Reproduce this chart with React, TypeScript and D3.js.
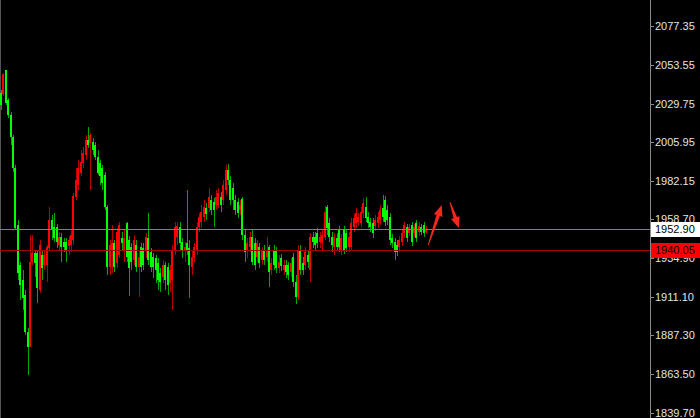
import React from "react";
import * as d3 from "d3";

const openP = [
  2036.2, 2035.6, 2050.3, 2031.9, 2022.7, 2009.2, 1990.1, 1955.1, 1930.6, 1921.4,
  1912.1, 1889.4, 1880.2, 1932.4, 1937.9, 1937.9, 1915.2, 1936.7, 1930.6, 1930.6,
  1941.0, 1958.2, 1953.9, 1953.9, 1942.8, 1947.8, 1944.7, 1944.7, 1942.2, 1942.8,
  1945.9, 1972.3, 1979.7, 1987.1, 1993.2, 1998.1, 2007.3, 2005.5, 2006.1, 2004.3,
  1996.9, 1993.2, 1990.1, 1985.8, 1966.2, 1929.3, 1939.8, 1944.1, 1931.8, 1936.7,
  1947.1, 1939.8, 1956.4, 1945.9, 1941.6, 1933.6, 1942.8, 1929.3, 1941.6, 1941.0,
  1939.8, 1947.1, 1938.5, 1935.5, 1934.9, 1931.8, 1925.7, 1923.2, 1930.6, 1929.3,
  1919.5, 1921.4, 1939.8, 1947.8, 1953.9, 1944.7, 1939.8, 1944.1, 1941.0, 1929.3,
  1934.9, 1939.8, 1953.9, 1957.0, 1960.0, 1965.6, 1965.6, 1970.5, 1969.2, 1967.4,
  1967.4, 1972.3, 1970.5, 1976.6, 1988.9, 1982.8, 1977.8, 1970.5, 1969.2, 1964.3,
  1971.1, 1949.0, 1939.8, 1941.6, 1947.8, 1944.1, 1935.5, 1941.6, 1933.6, 1939.8,
  1935.5, 1941.6, 1927.5, 1939.8, 1939.8, 1928.7, 1934.9, 1927.5, 1930.6, 1930.6,
  1926.3, 1935.5, 1920.1, 1910.9, 1939.8, 1931.8, 1930.6, 1936.7, 1927.5, 1947.8,
  1947.8, 1950.2, 1944.7, 1944.1, 1947.8, 1966.2, 1956.4, 1947.8, 1941.6, 1947.1,
  1952.1, 1939.8, 1952.1, 1950.2, 1941.6, 1941.6, 1953.9, 1956.4, 1957.0, 1956.4,
  1962.5, 1966.2, 1960.0, 1957.0, 1956.4, 1954.5, 1956.4, 1958.2, 1965.6, 1970.5,
  1964.3, 1960.0, 1947.1, 1944.7, 1942.8, 1941.6, 1944.7, 1950.2, 1953.9, 1950.2,
  1955.1, 1950.2, 1956.4, 1950.8, 1953.9, 1955.1, 1950.8,
];

const highP = [
  2038.0, 2048.5, 2050.3, 2033.1, 2024.5, 2010.4, 1992.0, 1958.2, 1932.4, 1927.5,
  1915.2, 1891.9, 1949.0, 1949.0, 1939.8, 1939.8, 1945.9, 1939.8, 1939.8, 1942.8,
  1966.2, 1961.3, 1962.5, 1955.7, 1950.8, 1950.2, 1947.1, 1947.1, 1948.4, 1952.1,
  1974.8, 1990.1, 1995.0, 2001.2, 2003.0, 2010.4, 2015.3, 2011.6, 2008.6, 2006.1,
  2001.2, 1995.0, 1992.0, 1987.7, 1967.4, 1945.9, 1955.1, 1945.9, 1953.3, 1957.0,
  1950.8, 1952.1, 1957.0, 1948.4, 1944.1, 1949.0, 1945.9, 1939.8, 1944.1, 1944.1,
  1950.2, 1962.5, 1941.0, 1937.9, 1936.7, 1934.9, 1928.7, 1933.6, 1932.4, 1931.8,
  1930.6, 1942.8, 1957.0, 1957.0, 1957.0, 1947.1, 1944.7, 1976.6, 1945.9, 1939.8,
  1944.1, 1957.0, 1962.5, 1967.4, 1970.5, 1968.6, 1977.8, 1973.5, 1971.7, 1976.6,
  1977.8, 1975.4, 1982.8, 1992.0, 1992.6, 1985.2, 1980.9, 1973.5, 1971.7, 1970.5,
  1972.3, 1952.1, 1947.1, 1950.8, 1952.1, 1947.1, 1945.9, 1944.1, 1941.6, 1942.8,
  1947.8, 1942.8, 1934.9, 1942.8, 1941.6, 1936.7, 1937.3, 1933.6, 1933.6, 1932.4,
  1934.9, 1937.9, 1924.4, 1942.8, 1942.8, 1935.5, 1941.6, 1939.8, 1950.2, 1950.8,
  1950.8, 1953.3, 1950.8, 1952.1, 1966.8, 1967.4, 1959.4, 1950.8, 1950.2, 1950.2,
  1954.5, 1949.6, 1954.5, 1952.7, 1950.8, 1959.4, 1961.9, 1965.6, 1962.5, 1966.2,
  1971.7, 1972.3, 1963.1, 1959.4, 1959.4, 1961.3, 1963.1, 1967.4, 1973.5, 1972.9,
  1967.4, 1962.5, 1949.6, 1947.1, 1945.9, 1948.4, 1952.7, 1957.0, 1955.7, 1955.7,
  1957.0, 1955.7, 1958.2, 1957.0, 1955.7, 1957.0, 1954.5,
];

const lowP = [
  2025.8, 2034.3, 2028.8, 2020.8, 2004.3, 1987.7, 1952.1, 1921.4, 1909.1, 1902.9,
  1887.6, 1863.0, 1880.2, 1930.6, 1923.2, 1907.2, 1913.4, 1921.4, 1927.5, 1920.1,
  1939.8, 1945.9, 1944.7, 1941.0, 1939.8, 1932.4, 1938.5, 1932.4, 1936.7, 1938.5,
  1942.8, 1970.5, 1976.6, 1985.2, 1990.1, 1995.0, 2002.4, 1976.6, 1998.1, 1995.0,
  1985.8, 1979.7, 1976.6, 1964.3, 1924.4, 1924.4, 1925.7, 1926.3, 1928.7, 1934.9,
  1939.8, 1932.4, 1932.4, 1911.5, 1927.5, 1930.6, 1926.3, 1910.9, 1926.3, 1927.5,
  1934.9, 1930.6, 1926.3, 1922.6, 1919.5, 1915.2, 1914.0, 1919.5, 1915.2, 1912.1,
  1914.0, 1902.9, 1936.7, 1942.8, 1939.8, 1934.9, 1932.4, 1936.7, 1910.3, 1924.4,
  1932.4, 1936.7, 1950.8, 1953.3, 1957.0, 1958.2, 1963.1, 1961.3, 1953.9, 1964.3,
  1965.6, 1963.1, 1967.4, 1973.5, 1979.7, 1967.4, 1964.3, 1961.3, 1959.4, 1961.3,
  1945.9, 1932.4, 1934.9, 1938.5, 1930.6, 1927.5, 1932.4, 1928.7, 1930.6, 1930.6,
  1932.4, 1917.1, 1924.4, 1927.5, 1925.7, 1925.7, 1926.9, 1924.4, 1922.6, 1921.4,
  1923.2, 1917.1, 1906.6, 1909.1, 1924.4, 1924.4, 1927.5, 1928.7, 1920.1, 1941.0,
  1939.8, 1941.0, 1941.0, 1939.8, 1945.9, 1949.0, 1944.7, 1938.5, 1936.7, 1939.8,
  1938.5, 1936.7, 1937.3, 1938.5, 1938.5, 1939.8, 1950.8, 1953.3, 1954.5, 1953.9,
  1959.4, 1957.0, 1953.3, 1950.8, 1947.1, 1951.4, 1953.3, 1955.1, 1957.0, 1954.5,
  1955.1, 1942.8, 1941.0, 1933.6, 1936.1, 1938.5, 1942.2, 1947.1, 1944.7, 1948.4,
  1942.2, 1947.8, 1944.7, 1948.4, 1949.0, 1947.8, 1949.6,
];

const closeP = [
  2028.8, 2047.9, 2030.0, 2022.7, 2009.2, 1990.1, 1953.3, 1925.7, 1918.3, 1910.3,
  1889.4, 1880.2, 1932.4, 1937.9, 1931.8, 1916.4, 1942.8, 1928.7, 1936.7, 1941.6,
  1958.2, 1952.1, 1947.1, 1944.7, 1947.8, 1941.6, 1941.6, 1939.8, 1945.9, 1949.0,
  1972.9, 1982.8, 1990.1, 1993.8, 1999.3, 2007.3, 2004.3, 2010.4, 2001.2, 1996.9,
  1987.1, 1985.2, 1980.9, 1966.2, 1929.3, 1942.8, 1944.1, 1929.3, 1950.8, 1955.1,
  1944.1, 1947.1, 1935.5, 1928.7, 1932.4, 1945.9, 1929.3, 1935.5, 1929.3, 1930.6,
  1947.8, 1933.6, 1929.3, 1929.3, 1927.5, 1921.4, 1920.1, 1930.6, 1921.4, 1918.3,
  1927.5, 1939.8, 1953.9, 1954.5, 1944.1, 1939.8, 1941.6, 1939.8, 1930.6, 1935.5,
  1941.6, 1953.9, 1960.0, 1963.1, 1966.2, 1961.9, 1972.3, 1964.3, 1964.3, 1972.3,
  1974.8, 1967.4, 1979.7, 1988.9, 1982.8, 1970.5, 1970.5, 1964.3, 1962.5, 1967.4,
  1949.0, 1938.5, 1944.1, 1947.8, 1932.4, 1930.6, 1944.1, 1931.8, 1939.8, 1933.6,
  1939.8, 1926.3, 1931.8, 1930.6, 1928.7, 1932.4, 1929.9, 1930.6, 1926.3, 1924.4,
  1931.8, 1920.1, 1910.9, 1939.8, 1927.5, 1927.5, 1938.5, 1932.4, 1947.8, 1944.7,
  1942.8, 1944.1, 1947.8, 1949.0, 1963.1, 1953.3, 1947.8, 1942.8, 1947.8, 1941.6,
  1941.6, 1947.1, 1939.8, 1941.0, 1947.8, 1956.4, 1959.4, 1962.5, 1960.0, 1963.1,
  1968.6, 1959.4, 1956.4, 1953.9, 1950.2, 1958.2, 1960.0, 1964.3, 1960.0, 1957.0,
  1958.2, 1945.9, 1944.1, 1938.5, 1938.5, 1945.9, 1950.2, 1955.1, 1947.1, 1953.9,
  1944.7, 1953.9, 1947.1, 1954.5, 1950.8, 1950.2, 1952.9,
];

const tickLabels = [
  "2077.35", "2053.55", "2029.75", "2005.95", "1982.15", "1958.70",
  "1934.90", "1911.10", "1887.30", "1863.50", "1839.70",
];

const bidPrice = 1952.9;
const levelPrice = 1940.05;

// annotation arrows in (bar index, price) space
const arrowFromBar = [176.7, 185.7];
const arrowFromPrice = [1942.8, 1969.2];
const arrowToBar = [182.3, 189.4];
const arrowToPrice = [1967.4, 1953.3];

const W = 700;
const H = 418;
const AXIS_X = 650;
const FONT = "'Liberation Sans', Arial, sans-serif";

export default function App() {
  const n = closeP.length;
  const y = d3.scaleLinear().domain([1839.7, 2077.35]).range([413, 26]);
  const x = d3.scaleLinear().domain([0, n - 1]).range([1.5, 426.5]);

  const candles = closeP.map((c, i) => {
    const o = openP[i];
    const up = c >= o;
    const cx = Math.floor(x(i));
    const yTop = Math.round(y(Math.max(o, c)));
    const yBot = Math.round(y(Math.min(o, c)));
    const yH = Math.round(y(highP[i]));
    const yL = Math.round(y(lowP[i]));
    const body = up ? "#ff0000" : "#00ff00";
    const wick = up ? "#b80000" : "#00a800";
    return (
      <g key={i}>
        <rect x={cx} y={yH} width={1} height={Math.max(1, yL - yH)} fill={wick} />
        <rect x={cx - 1} y={yTop} width={2} height={Math.max(1, yBot - yTop)} fill={body} />
      </g>
    );
  });

  const arrows = arrowFromBar.map((fb, k) => {
    const sx = x(fb), sy = y(arrowFromPrice[k]);
    const tx = x(arrowToBar[k]), ty = y(arrowToPrice[k]);
    const len = Math.hypot(tx - sx, ty - sy);
    const dx = (tx - sx) / len, dy = (ty - sy) / len;
    const nx = -dy, ny = dx;
    const hl = 11, hw = 4.5, sw0 = 0.5, sw1 = 1.8;
    const bx = tx - dx * hl, by = ty - dy * hl;
    const pts = [
      [sx + nx * sw0, sy + ny * sw0],
      [bx + nx * sw1, by + ny * sw1],
      [bx + nx * hw, by + ny * hw],
      [tx, ty],
      [bx - nx * hw, by - ny * hw],
      [bx - nx * sw1, by - ny * sw1],
      [sx - nx * sw0, sy - ny * sw0],
    ];
    return <polygon key={k} points={pts.map((p) => p.join(",")).join(" ")} fill="#f2281c" />;
  });

  const bidY = Math.round(y(bidPrice)) + 0.5;
  const lvlY = Math.round(y(levelPrice)) + 0.5;

  return (
    <svg width={W} height={H} style={{ position: "absolute", left: 0, top: 0, display: "block" }}>
      <rect x={0} y={0} width={W} height={H} fill="#000000" />
      <line x1={0.5} y1={0} x2={0.5} y2={H} stroke="#555555" strokeWidth={1} />
      <g shapeRendering="crispEdges">{candles}</g>
      <line x1={0} x2={AXIS_X} y1={bidY} y2={bidY} stroke="#77808e" strokeWidth={1} shapeRendering="crispEdges" />
      <line x1={0} x2={AXIS_X} y1={lvlY} y2={lvlY} stroke="#a00000" strokeWidth={1} shapeRendering="crispEdges" />
      <g>{arrows}</g>
      <line x1={AXIS_X + 0.5} y1={0} x2={AXIS_X + 0.5} y2={H} stroke="#8c8c8c" strokeWidth={1} shapeRendering="crispEdges" />
      <g fontFamily={FONT} fontSize={11}>
        {tickLabels.map((t) => {
          const ty = Math.round(y(+t));
          return (
            <g key={t}>
              <line x1={AXIS_X} x2={AXIS_X + 4} y1={ty + 0.5} y2={ty + 0.5} stroke="#8c8c8c" shapeRendering="crispEdges" />
              <text x={AXIS_X + 5} y={ty + 4} fill="#e4e4e4">{t}</text>
            </g>
          );
        })}
        <rect x={AXIS_X + 1} y={Math.round(y(bidPrice)) - 7} width={W - AXIS_X - 1} height={15} fill="#ffffff" />
        <text x={AXIS_X + 5} y={Math.round(y(bidPrice)) + 4} fill="#000000">{bidPrice.toFixed(2)}</text>
        <rect x={AXIS_X + 1} y={Math.round(y(levelPrice)) - 7} width={W - AXIS_X - 1} height={15} fill="#ff0000" />
        <text x={AXIS_X + 5} y={Math.round(y(levelPrice)) + 4} fill="#000000">{levelPrice.toFixed(2)}</text>
      </g>
    </svg>
  );
}
